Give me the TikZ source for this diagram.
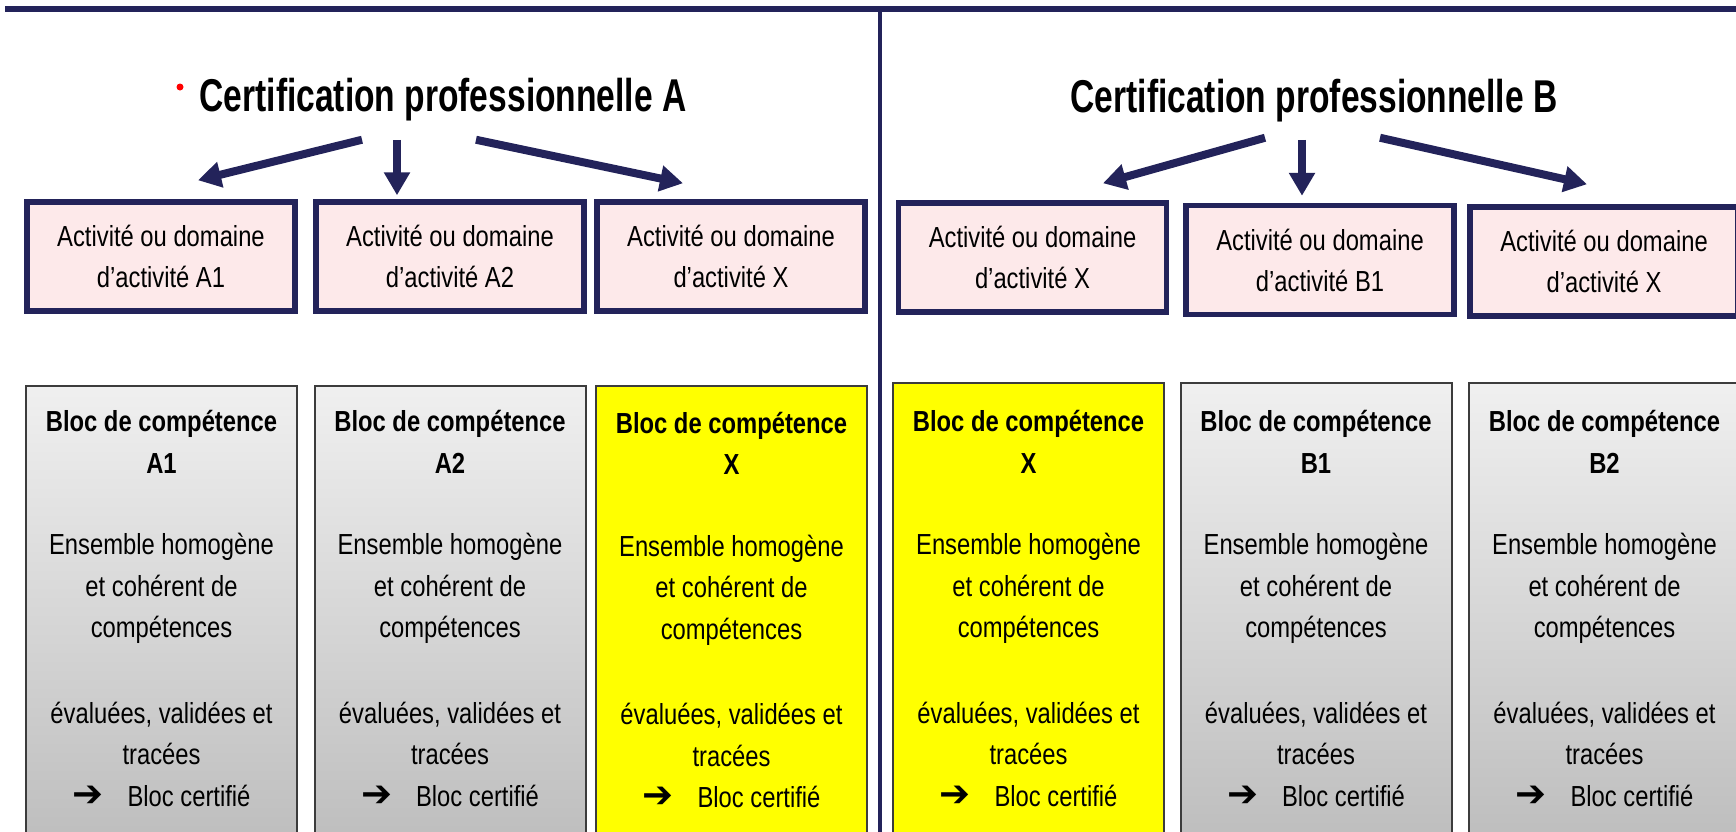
\documentclass[tikz,border=0pt]{standalone}
\usepackage{fontspec}
\setmainfont{Liberation Sans}[FakeStretch=0.82]
\newfontfamily\titlefont{Liberation Sans}[FakeStretch=0.73]
\newfontfamily\arrowsym{DejaVu Sans}
\usetikzlibrary{arrows.meta,positioning}

\definecolor{navy}{RGB}{35,35,90}
\definecolor{rosepale}{RGB}{253,233,234}
\definecolor{cadre}{RGB}{60,60,60}
\definecolor{jaune}{RGB}{255,255,0}

\newcommand{\bloctext}[1]{\textbf{Bloc de compétence}\\\textbf{#1}\\[40pt]%
  Ensemble homogène\\et cohérent de\\compétences\\[44pt]%
  évaluées, validées et\\tracées\\{\arrowsym\fontsize{37}{41.5}\selectfont ➔}\hspace{24pt}Bloc certifié}

\tikzset{
  titre/.style={font=\titlefont\bfseries\fontsize{46}{50}\selectfont, inner sep=0pt, anchor=base},
  activite/.style={draw=navy, line width=5.5pt, fill=rosepale, minimum width=268pt,
    minimum height=109pt, align=center, inner sep=0pt, font=\fontsize{29}{41}\selectfont},
  bloc/.style={draw=cadre, line width=2pt, minimum width=271pt, minimum height=500pt,
    anchor=north, inner sep=0pt},
  blocgris/.style={bloc, top color=gray!12, bottom color=gray!55},
  blocjaune/.style={bloc, fill=jaune},
  bloctexte/.style={anchor=north, align=center, inner sep=0pt, font=\fontsize{29}{41.5}\selectfont},
  fleche/.style={draw=navy, line width=8pt, -{Triangle[length=23pt,width=25pt]}}
}

\begin{document}
\begin{tikzpicture}[x=1pt,y=-1pt]
  \useasboundingbox (0,0) rectangle (1736,831);
  \clip (0,0) rectangle (1736,831);
  % separation lines
  \draw[navy, line width=6pt] (5,9) -- (1740,9);
  \draw[navy, line width=4.5pt] (880,9) -- (880,835);

  % titles
  \node[titre] (titreA) at (443,111) {Certification professionnelle A};
  \node[titre] (titreB) at (1314,112) {Certification professionnelle B};
  \fill[red] (180,87) circle (3.5pt);

  % activities
  \node[activite] (actA1) at (161,256.5) {Activité ou domaine\\d’activité A1};
  \node[activite] (actA2) at (450,256.5) {Activité ou domaine\\d’activité A2};
  \node[activite] (actAX) at (731,256.5) {Activité ou domaine\\d’activité X};
  \node[activite] (actBX) at (1032.5,257.5) {Activité ou domaine\\d’activité X};
  \node[activite] (actB1) at (1320,260) {Activité ou domaine\\d’activité B1};
  \node[activite] (actBX2) at (1604,261.5) {Activité ou domaine\\d’activité X};

  % arrows
  \draw[fleche] ([shift={(-81,19)}]titreA.south) -- ([shift={(37,-19)}]actA1.north);
  \draw[fleche] ([shift={(-46,19)}]titreA.south) -- ([shift={(-53,-4)}]actA2.north);
  \draw[fleche] ([shift={(33,19)}]titreA.south) -- ([shift={(-48,-16)}]actAX.north);
  \draw[fleche] ([shift={(-49,16)}]titreB.south) -- ([shift={(70.5,-17)}]actBX.north);
  \draw[fleche] ([shift={(-12,18)}]titreB.south) -- ([shift={(-18,-7)}]actB1.north);
  \draw[fleche] ([shift={(66,16)}]titreB.south) -- ([shift={(-17,-20)}]actBX2.north);

  % blocs
  \node[blocgris] (blocA1) at (161.5,385) {};
  \node[blocgris] (blocA2) at (450,385) {};
  \node[blocjaune] (blocAX) at (731.5,385) {};
  \node[blocjaune] (blocBX) at (1028.5,382) {};
  \node[blocgris] (blocB1) at (1316,382) {};
  \node[blocgris] (blocB2) at (1604.5,382) {};

  \node[bloctexte] (txtA1) at ([shift={(0,25.5)}]blocA1.north) {\bloctext{A1}};
  \node[bloctexte] (txtA2) at ([shift={(0,25.5)}]blocA2.north) {\bloctext{A2}};
  \node[bloctexte] (txtAX) at ([shift={(0,27)}]blocAX.north) {\bloctext{X}};
  \node[bloctexte] (txtBX) at ([shift={(0,28.5)}]blocBX.north) {\bloctext{X}};
  \node[bloctexte] (txtB1) at ([shift={(0,28.5)}]blocB1.north) {\bloctext{B1}};
  \node[bloctexte] (txtB2) at ([shift={(0,28.5)}]blocB2.north) {\bloctext{B2}};
\end{tikzpicture}
\end{document}
